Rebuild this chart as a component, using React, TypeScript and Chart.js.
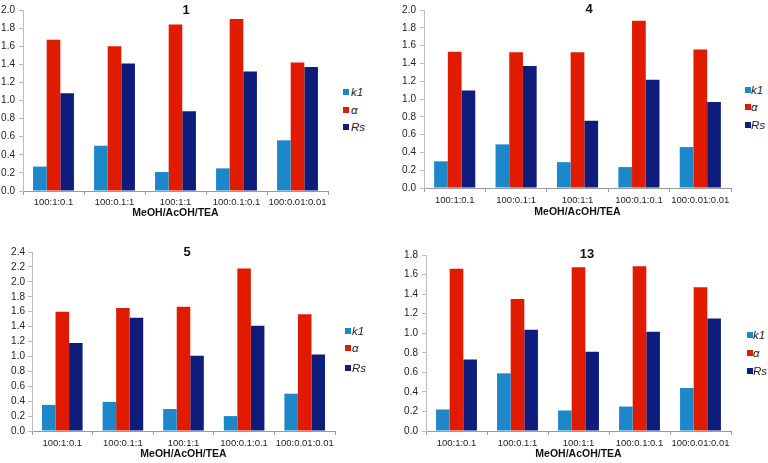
import React, { useEffect, useRef } from "react";
import { Chart, registerables } from "chart.js";

Chart.register(...registerables);

// ---------------- data ----------------
const categories = ["100:1:0.1", "100:0.1:1", "100:1:1", "100:0.1:0.1", "100:0.01:0.01"];
const seriesNames = ["k1", "α", "Rs"];
const seriesColors = ["#1C87C9", "#E01B00", "#0E1C7C"];
const panelTitles = ["1", "4", "5", "13"];
const yMaxes = [2.0, 2.0, 2.4, 1.8];
const yStep = 0.2;
const xAxisTitle = "MeOH/AcOH/TEA";

const k1_1 = [0.27, 0.5, 0.21, 0.25, 0.56];
const alpha_1 = [1.67, 1.6, 1.84, 1.9, 1.42];
const rs_1 = [1.08, 1.41, 0.88, 1.32, 1.37];

const k1_4 = [0.3, 0.49, 0.29, 0.235, 0.46];
const alpha_4 = [1.53, 1.525, 1.525, 1.88, 1.555];
const rs_4 = [1.095, 1.37, 0.755, 1.215, 0.965];

const k1_5 = [0.35, 0.39, 0.295, 0.2, 0.5];
const alpha_5 = [1.6, 1.65, 1.665, 2.18, 1.565];
const rs_5 = [1.18, 1.52, 1.01, 1.41, 1.025];

const k1_13 = [0.22, 0.59, 0.21, 0.25, 0.44];
const alpha_13 = [1.66, 1.35, 1.675, 1.685, 1.47];
const rs_13 = [0.73, 1.035, 0.81, 1.015, 1.15];

const panelSeries = [
  [k1_1, alpha_1, rs_1],
  [k1_4, alpha_4, rs_4],
  [k1_5, alpha_5, rs_5],
  [k1_13, alpha_13, rs_13],
];

// ---------------- layout (absolute page pixels) ----------------
const layouts = [
  { ax: 23, right: 328, top: 9, bottom: 191, labelPad: 2, titleGap: 22, yPad: 4, titleX: 186, titleY: 10, boxX: 343, textX: 351, legendYs: [92, 110, 127] },
  { ax: 424, right: 731, top: 9, bottom: 188, labelPad: 2.5, titleGap: 24, yPad: 4, titleX: 589, titleY: 9, boxX: 745, textX: 751, legendYs: [90, 107, 125] },
  { ax: 32, right: 335, top: 252, bottom: 431, labelPad: 2.5, titleGap: 23, yPad: 3, titleX: 187, titleY: 252, boxX: 345, textX: 352, legendYs: [331, 348, 368] },
  { ax: 426, right: 731, top: 254, bottom: 431, labelPad: 2.5, titleGap: 23, yPad: 4, titleX: 587, titleY: 254, boxX: 747, textX: 753, legendYs: [335, 353, 371] },
];

const FONT = '"Liberation Sans", Arial, Helvetica, sans-serif';
const YW = 30; // y-axis box width
const XH = 30; // x-axis box height
const PT = 9; // padding top
const PR = 12; // padding right

const titlePlugin = {
  id: "panelTitle",
  afterDraw(chart: any, _args: any, opts: any) {
    const ctx = chart.ctx;
    ctx.save();
    ctx.font = `bold 13px ${FONT}`;
    ctx.fillStyle = "#111";
    ctx.textAlign = "center";
    ctx.textBaseline = "middle";
    ctx.fillText(opts.text, opts.x, opts.y);
    ctx.restore();
  },
};

function Panel({ idx }: { idx: number }) {
  const ref = useRef<HTMLCanvasElement | null>(null);
  const L = layouts[idx];
  const canvasLeft = L.ax - YW;
  const canvasTop = L.top - PT;
  const width = YW + (L.right - L.ax) + PR;
  const height = PT + (L.bottom - L.top) + XH;

  useEffect(() => {
    if (!ref.current) return;
    const series = panelSeries[idx];
    const titlePadBottom = Math.max(0, XH - 6.3 - L.titleGap);
    const chart = new Chart(ref.current, {
      type: "bar",
      data: {
        labels: categories,
        datasets: seriesNames.map((name, i) => ({
          label: name,
          data: series[i],
          backgroundColor: seriesColors[i],
          borderWidth: 0,
          categoryPercentage: 0.67,
          barPercentage: 1.0,
        })),
      },
      options: {
        responsive: false,
        animation: false,
        layout: { padding: { top: PT, right: PR, left: 0, bottom: 0 } },
        plugins: {
          legend: { display: false },
          tooltip: { enabled: false },
          panelTitle: { text: panelTitles[idx], x: L.titleX - canvasLeft, y: L.titleY - canvasTop },
        } as any,
        scales: {
          x: {
            grid: { display: true, drawOnChartArea: false, drawTicks: true, tickLength: 4, color: "#9a9a9a", offset: true },
            border: { display: true, color: "#9a9a9a", width: 1 },
            ticks: { font: { family: FONT, size: 9.5 }, color: "#222", padding: L.labelPad, maxRotation: 0, autoSkip: false },
            title: {
              display: true,
              text: xAxisTitle,
              font: { family: FONT, size: 10.5, weight: "bold" },
              color: "#111",
              padding: { top: 0, bottom: titlePadBottom },
            },
            afterFit: (s: any) => {
              s.height = XH;
            },
          },
          y: {
            min: 0,
            max: yMaxes[idx],
            ticks: {
              stepSize: yStep,
              autoSkip: false,
              callback: (v: any) => Number(v).toFixed(1),
              font: { family: FONT, size: 10 },
              color: "#222",
              padding: L.yPad,
            },
            grid: { display: true, drawOnChartArea: false, drawTicks: true, tickLength: 4, color: "#bdbdbd" },
            border: { display: true, color: "#bdbdbd", width: 1 },
            afterFit: (s: any) => {
              s.width = YW;
            },
          },
        },
      } as any,
      plugins: [titlePlugin as any],
    });
    return () => chart.destroy();
  }, [idx]);

  return (
    <>
      <canvas
        ref={ref}
        width={width}
        height={height}
        style={{ position: "absolute", left: canvasLeft, top: canvasTop, width, height }}
      />
      {seriesNames.map((name, i) => (
        <React.Fragment key={name}>
          <div
            style={{
              position: "absolute",
              left: L.boxX,
              top: L.legendYs[i] - 3,
              width: 6,
              height: 6,
              background: seriesColors[i],
            }}
          />
          <div
            style={{
              position: "absolute",
              left: L.textX,
              top: L.legendYs[i] - 7,
              height: 14,
              lineHeight: "14px",
              fontFamily: FONT,
              fontSize: 11.5,
              fontStyle: "italic",
              color: "#222",
              whiteSpace: "nowrap",
            }}
          >
            {name}
          </div>
        </React.Fragment>
      ))}
    </>
  );
}

export default function App() {
  return (
    <div
      style={{
        position: "fixed",
        left: 0,
        top: 0,
        width: 768,
        height: 463,
        background: "#fff",
        overflow: "hidden",
      }}
    >
      {[0, 1, 2, 3].map((i) => (
        <Panel key={i} idx={i} />
      ))}
    </div>
  );
}
